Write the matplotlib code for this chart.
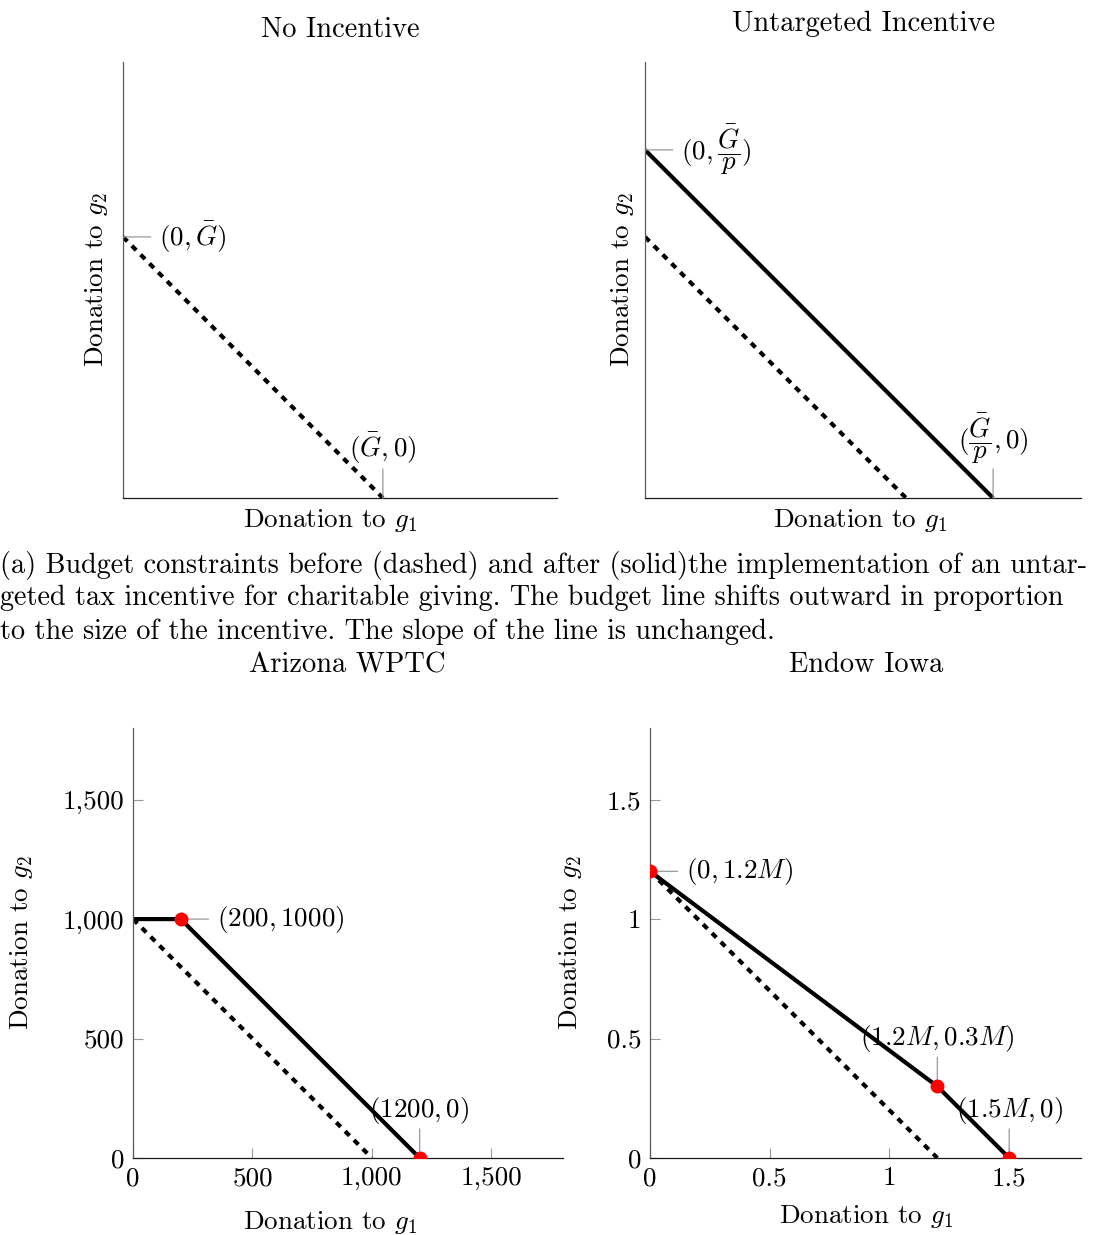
import matplotlib
matplotlib.use("Agg")
import matplotlib.pyplot as plt
from matplotlib.ticker import FuncFormatter

plt.rcParams['font.family'] = ['cmr10', 'DejaVu Serif']
plt.rcParams['mathtext.fontset'] = 'cm'
plt.rcParams['axes.formatter.use_mathtext'] = True
plt.rcParams['font.size'] = 19.5

# schematic panels: budget G_bar and price p of giving
G = 1.0
p = 0.75
sketch_lim = 1.67

# Arizona working poor tax credit
az_before_x = [0, 1000]
az_before_y = [1000, 0]
az_after_x = [0, 200, 1200]
az_after_y = [1000, 1000, 0]
az_pts_x = [200, 1200]
az_pts_y = [1000, 0]
az_ticks = [0, 500, 1000, 1500]

# Endow Iowa (millions)
ia_before_x = [0, 1.2]
ia_before_y = [1.2, 0]
ia_after_x = [0, 1.2, 1.5]
ia_after_y = [1.2, 0.3, 0]
ia_pts_x = [0, 1.2, 1.5]
ia_pts_y = [1.2, 0.3, 0]
ia_ticks = [0, 0.5, 1, 1.5]

W, H = 1100, 1235
fig = plt.figure(figsize=(W / 100, H / 100), dpi=100)


def make_axes(x0, y0, x1, y1):
    ax = fig.add_axes([x0 / W, 1 - y1 / H, (x1 - x0) / W, (y1 - y0) / H])
    for s in ['top', 'right']:
        ax.spines[s].set_visible(False)
    ax.spines['left'].set_color('0.35')
    ax.spines['bottom'].set_color('0.1')
    for s in ['left', 'bottom']:
        ax.spines[s].set_linewidth(0.9)
    ax.tick_params(direction='in', length=7, width=0.8, color='0.6', pad=6)
    return ax


def ftext(x, y, s, **kw):
    fig.text(x / W, 1 - y / H, s, ha=kw.pop('ha', 'center'), va=kw.pop('va', 'center'), **kw)


def pin(ax, x, y, label, side):
    if side == 'right':
        line_end, txt, ha, va = (20, 0), (26, 0), 'left', 'center'
    else:
        line_end, txt, ha, va = (0, 21), (0, 23), 'center', 'bottom'
    ax.annotate('', xy=(x, y), xytext=line_end, textcoords='offset points',
                arrowprops=dict(arrowstyle='-', color='0.6', lw=0.9, shrinkA=0, shrinkB=0),
                annotation_clip=False)
    ax.annotate(label, xy=(x, y), xytext=txt, textcoords='offset points',
                ha=ha, va=va, annotation_clip=False)


solid = dict(color='black', lw=3, solid_capstyle='butt', solid_joinstyle='miter')
dashed = dict(color='black', lw=3, linestyle=(0, (1.5, 1.5)), dash_capstyle='butt')
dots = dict(color='red', marker='o', ms=9, linestyle='none', zorder=5)

# No incentive
ax1 = make_axes(123, 62, 557, 498)
ax1.plot([0, G], [G, 0], **dashed)
ax1.set_xlim(0, sketch_lim)
ax1.set_ylim(0, sketch_lim)
ax1.set_xticks([])
ax1.set_yticks([])
pin(ax1, 0, G, r'$(0,\bar{G})$', 'right')
pin(ax1, G, 0, r'$(\bar{G},0)$', 'up')

# Untargeted incentive
ax2 = make_axes(645, 62, 1081, 498)
ax2.plot([0, G], [G, 0], **dashed)
ax2.plot([0, G / p], [G / p, 0], **solid)
ax2.set_xlim(0, sketch_lim)
ax2.set_ylim(0, sketch_lim)
ax2.set_xticks([])
ax2.set_yticks([])
pin(ax2, 0, G / p, r'$(0,\dfrac{\bar{G}}{p})$', 'right')
pin(ax2, G / p, 0, r'$(\dfrac{\bar{G}}{p},0)$', 'up')

# Arizona WPTC
ax3 = make_axes(133, 728, 563, 1158)
ax3.plot(az_before_x, az_before_y, **dashed)
ax3.plot(az_after_x, az_after_y, **solid)
ax3.plot(az_pts_x, az_pts_y, **dots)
ax3.set_xlim(0, 1800)
ax3.set_ylim(0, 1800)
ax3.set_xticks(az_ticks)
ax3.set_yticks(az_ticks)
comma = FuncFormatter(lambda v, pos: '{:,.0f}'.format(v))
ax3.xaxis.set_major_formatter(comma)
ax3.yaxis.set_major_formatter(comma)
pin(ax3, 200, 1000, r'$(200,1000)$', 'right')
pin(ax3, 1200, 0, r'$(1200,0)$', 'up')

# Endow Iowa
ax4 = make_axes(650, 728, 1081, 1158)
ax4.plot(ia_before_x, ia_before_y, **dashed)
ax4.plot(ia_after_x, ia_after_y, **solid)
ax4.plot(ia_pts_x, ia_pts_y, **dots)
ax4.set_xlim(0, 1.8)
ax4.set_ylim(0, 1.8)
ax4.set_xticks(ia_ticks)
ax4.set_yticks(ia_ticks)
plain = FuncFormatter(lambda v, pos: '{:g}'.format(v))
ax4.xaxis.set_major_formatter(plain)
ax4.yaxis.set_major_formatter(plain)
pin(ax4, 0, 1.2, r'$(0,1.2M)$', 'right')
pin(ax4, 1.2, 0.3, r'$(1.2M,0.3M)$', 'up')
pin(ax4, 1.5, 0, r'$(1.5M,0)$', 'up')

# titles and axis labels
ftext(340, 30, 'No Incentive', fontsize=20.5)
ftext(864, 24, 'Untargeted Incentive', fontsize=20.5)
ftext(347, 665, 'Arizona WPTC', fontsize=20.5)
ftext(866, 665, 'Endow Iowa', fontsize=20.5)
ftext(330, 520, r'Donation to $g_1$')
ftext(860, 520, r'Donation to $g_1$')
ftext(330, 1222, r'Donation to $g_1$')
ftext(866, 1217, r'Donation to $g_1$')
ftext(97, 280, r'Donation to $g_2$', rotation=90)
ftext(622, 280, r'Donation to $g_2$', rotation=90)
ftext(22, 943, r'Donation to $g_2$', rotation=90)
ftext(570, 943, r'Donation to $g_2$', rotation=90)

# caption for the top row
cap = dict(ha='left', fontsize=20.3)
ftext(0, 565, '(a) Budget constraints before (dashed) and after (solid)the implementation of an untar-', **cap)
ftext(0, 598, 'geted tax incentive for charitable giving. The budget line shifts outward in proportion', **cap)
ftext(0, 632, 'to the size of the incentive. The slope of the line is unchanged.', **cap)

fig.savefig('out.png', dpi=100)
